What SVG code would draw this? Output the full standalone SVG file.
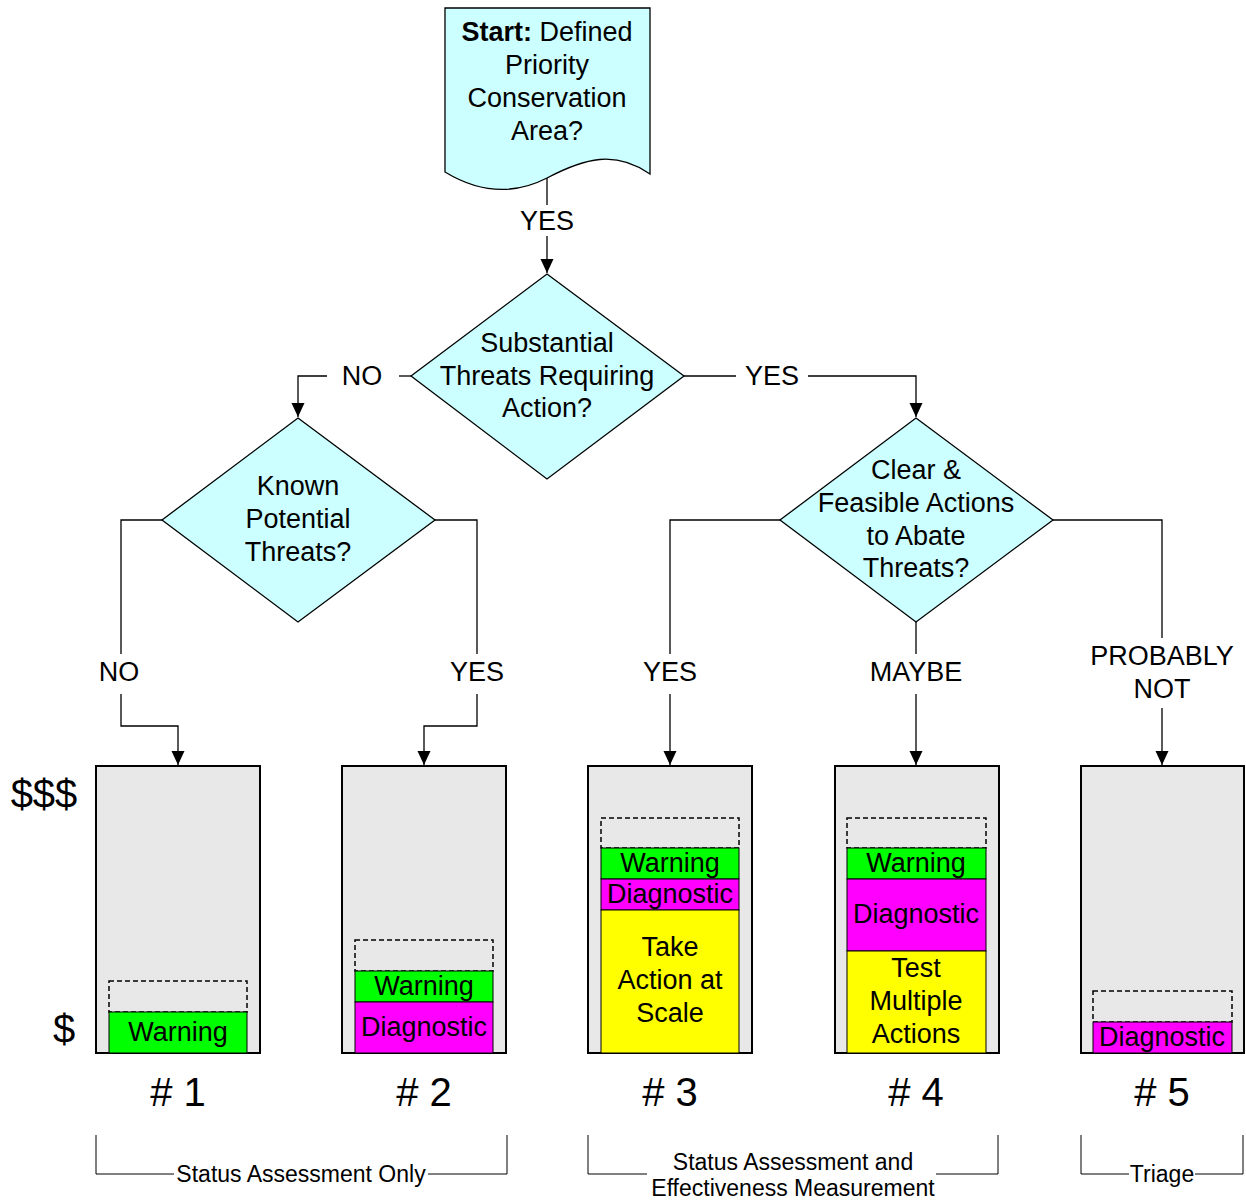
<svg xmlns="http://www.w3.org/2000/svg" width="1246" height="1202" viewBox="0 0 1246 1202">
<defs>
<marker id="arr" markerWidth="14" markerHeight="14" refX="14" refY="6.5" orient="auto" markerUnits="userSpaceOnUse">
<path d="M0,0 L14,6.5 L0,13 Z" fill="#000"/>
</marker>
<style>
text{font-family:"Liberation Sans",Arial,sans-serif;fill:#000;text-anchor:middle}
.t{font-size:27px}
.big{font-size:40px}
.sm{font-size:23px}
.shape{fill:#ccffff;stroke:#000;stroke-width:1.3}
.conn{fill:none;stroke:#000;stroke-width:1.3}
.box{fill:#e8e8e8;stroke:#000;stroke-width:2}
.dash{fill:#e8e8e8;stroke:#000;stroke-width:1.5;stroke-dasharray:5,3}
.g{fill:#00ff00;stroke:#000;stroke-width:1}
.m{fill:#ff00ff;stroke:#000;stroke-width:1}
.y{fill:#ffff00;stroke:#000;stroke-width:1}
.br{fill:none;stroke:#000;stroke-width:1}
</style>
</defs>
<rect width="1246" height="1202" fill="#fff"/>

<g id="connectors">
<path class="conn" d="M547,178 V205"/>
<path class="conn" d="M547,236 V273" marker-end="url(#arr)"/>
<path class="conn" d="M411,376 H399"/>
<path class="conn" d="M327,376 H298 V417" marker-end="url(#arr)"/>
<path class="conn" d="M684,376 H736"/>
<path class="conn" d="M808,376 H916 V417" marker-end="url(#arr)"/>
<path class="conn" d="M162,520 H121 V654"/>
<path class="conn" d="M121,694 V726 H178 V765" marker-end="url(#arr)"/>
<path class="conn" d="M435,520 H477 V654"/>
<path class="conn" d="M477,694 V726 H424 V765" marker-end="url(#arr)"/>
<path class="conn" d="M780,520 H670 V654"/>
<path class="conn" d="M670,694 V765" marker-end="url(#arr)"/>
<path class="conn" d="M916,622 V654"/>
<path class="conn" d="M916,694 V765" marker-end="url(#arr)"/>
<path class="conn" d="M1053,520 H1162 V638"/>
<path class="conn" d="M1162,708 V765" marker-end="url(#arr)"/>
<text class="t" x="547" y="230">YES</text>
<text class="t" x="362" y="385">NO</text>
<text class="t" x="772" y="385">YES</text>
<text class="t" x="119" y="681">NO</text>
<text class="t" x="477" y="681">YES</text>
<text class="t" x="670" y="681">YES</text>
<text class="t" x="916" y="681">MAYBE</text>
<text class="t" x="1162" y="665">PROBABLY</text>
<text class="t" x="1162" y="698">NOT</text>
</g>

<g id="start">
<path class="shape" d="M445,8 H650 V174 C615,150 585,158 547,178 C512,196 478,192 445,172 Z"/>
<text class="t" x="547" y="41"><tspan font-weight="bold">Start:</tspan> Defined</text>
<text class="t" x="547" y="74">Priority</text>
<text class="t" x="547" y="107">Conservation</text>
<text class="t" x="547" y="140">Area?</text>
</g>

<g id="d-substantial">
<polygon class="shape" points="547,274 684,376 547,479 411,376"/>
<text class="t" x="547" y="352">Substantial</text>
<text class="t" x="547" y="385">Threats Requiring</text>
<text class="t" x="547" y="417">Action?</text>
</g>

<g id="d-known">
<polygon class="shape" points="298,418 435,520 298,622 162,520"/>
<text class="t" x="298" y="495">Known</text>
<text class="t" x="298" y="528">Potential</text>
<text class="t" x="298" y="561">Threats?</text>
</g>

<g id="d-clear">
<polygon class="shape" points="916,418 1053,520 916,622 780,520"/>
<text class="t" x="916" y="479">Clear &amp;</text>
<text class="t" x="916" y="512">Feasible Actions</text>
<text class="t" x="916" y="545">to Abate</text>
<text class="t" x="916" y="577">Threats?</text>
</g>

<g id="scale">
<text class="big" x="44" y="808">$$$</text>
<text class="big" x="64" y="1043">$</text>
</g>

<g id="box1">
<rect class="box" x="96" y="766" width="164" height="287"/>
<rect class="dash" x="109" y="981" width="138" height="31"/>
<rect class="g" x="109" y="1012" width="138" height="41"/>
<text class="t" x="178" y="1041">Warning</text>
<text class="big" x="178" y="1106"># 1</text>
</g>

<g id="box2">
<rect class="box" x="342" y="766" width="164" height="287"/>
<rect class="dash" x="355" y="940" width="138" height="31"/>
<rect class="g" x="355" y="971" width="138" height="31"/>
<rect class="m" x="355" y="1002" width="138" height="51"/>
<text class="t" x="424" y="995">Warning</text>
<text class="t" x="424" y="1036">Diagnostic</text>
<text class="big" x="424" y="1106"># 2</text>
</g>

<g id="box3">
<rect class="box" x="588" y="766" width="164" height="287"/>
<rect class="dash" x="601" y="818" width="138" height="30"/>
<rect class="g" x="601" y="848" width="138" height="31"/>
<rect class="m" x="601" y="879" width="138" height="31"/>
<rect class="y" x="601" y="910" width="138" height="143"/>
<text class="t" x="670" y="872">Warning</text>
<text class="t" x="670" y="903">Diagnostic</text>
<text class="t" x="670" y="956">Take</text>
<text class="t" x="670" y="989">Action at</text>
<text class="t" x="670" y="1022">Scale</text>
<text class="big" x="670" y="1106"># 3</text>
</g>

<g id="box4">
<rect class="box" x="835" y="766" width="164" height="287"/>
<rect class="dash" x="847" y="818" width="139" height="30"/>
<rect class="g" x="847" y="848" width="139" height="31"/>
<rect class="m" x="847" y="879" width="139" height="72"/>
<rect class="y" x="847" y="951" width="139" height="102"/>
<text class="t" x="916" y="872">Warning</text>
<text class="t" x="916" y="923">Diagnostic</text>
<text class="t" x="916" y="977">Test</text>
<text class="t" x="916" y="1010">Multiple</text>
<text class="t" x="916" y="1043">Actions</text>
<text class="big" x="916" y="1106"># 4</text>
</g>

<g id="box5">
<rect class="box" x="1081" y="766" width="163" height="287"/>
<rect class="dash" x="1093" y="991" width="139" height="31"/>
<rect class="m" x="1093" y="1022" width="139" height="31"/>
<text class="t" x="1162" y="1046">Diagnostic</text>
<text class="big" x="1162" y="1106"># 5</text>
</g>

<g id="brackets">
<path class="br" d="M96,1135 V1174 H174"/>
<path class="br" d="M428,1174 H507 V1135"/>
<text class="sm" x="301" y="1182">Status Assessment Only</text>
<path class="br" d="M588,1135 V1174 H647"/>
<path class="br" d="M936,1174 H998 V1135"/>
<text class="sm" x="793" y="1170">Status Assessment and</text>
<text class="sm" x="793" y="1196">Effectiveness Measurement</text>
<path class="br" d="M1081,1135 V1174 H1129"/>
<path class="br" d="M1195,1174 H1243 V1135"/>
<text class="sm" x="1162" y="1182">Triage</text>
</g>
</svg>
